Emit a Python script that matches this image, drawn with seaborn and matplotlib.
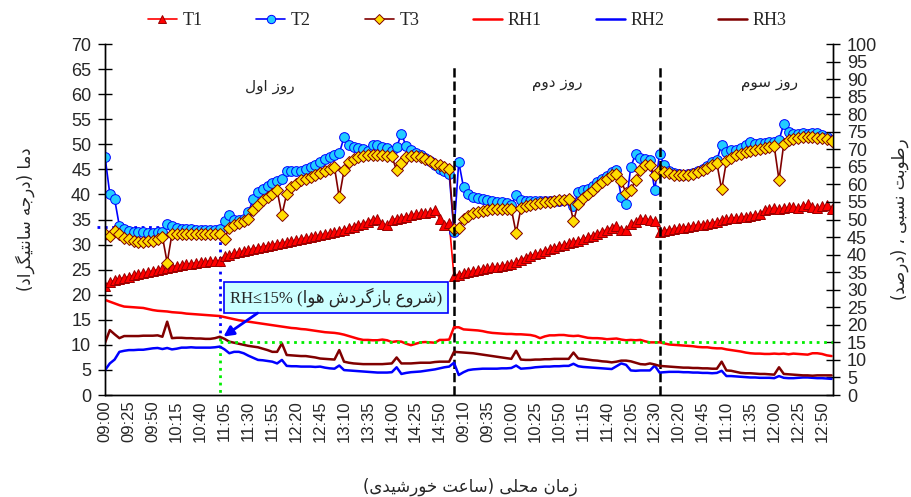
import matplotlib
matplotlib.use("Agg")
import matplotlib.pyplot as plt
import pandas as pd
import seaborn as sns
from matplotlib.lines import Line2D

# three measuring days, 5-minute readings
DAY_STARTS = ["09:00", "09:00", "10:00"]
DAY_COUNTS = [73, 43, 37]
DAY_NAMES = ["روز اول", "روز دوم", "روز سوم"]

# temperatures (deg C), day 1 / day 2 / day 3
T1_D1 = [21.8, 22.5, 22.9, 23.2, 23.4, 23.6, 23.9, 24.1, 24.3, 24.5,
         24.8, 25.0, 25.2, 25.4, 25.6, 25.8, 25.9, 26.1, 26.2, 26.4,
         26.5, 26.6, 26.7, 26.8, 26.8, 27.7, 28.0, 28.3, 28.5, 28.7,
         28.9, 29.2, 29.4, 29.6, 29.8, 30.0, 30.2, 30.4, 30.5, 30.7,
         30.9, 31.1, 31.3, 31.5, 31.7, 31.9, 32.1, 32.3, 32.5, 32.7,
         33.0, 33.3, 33.6, 33.9, 34.2, 34.6, 35.0, 35.1, 34.2, 33.9,
         34.9, 35.2, 35.4, 35.6, 35.9, 36.1, 36.3, 36.3, 36.6, 36.9, 35.2, 34.0, 34.4]
T1_D2 = [23.7, 24.0, 24.3, 24.5, 24.7, 24.9, 25.1, 25.3, 25.5, 25.6,
         25.8, 25.9, 26.1, 26.5, 27.0, 27.4, 27.8, 28.1, 28.4, 28.8,
         29.1, 29.4, 29.7, 30.0, 30.3, 30.6, 30.8, 31.1, 31.5, 31.8,
         32.2, 32.6, 33.0, 33.4, 33.7, 32.9, 33.0, 34.1, 34.6, 35.1, 35.2, 34.9, 34.8]
T1_D3 = [32.5, 32.8, 33.0, 33.1, 33.3, 33.4, 33.6, 33.7, 33.9, 34.0,
         34.2, 34.4, 34.6, 34.9, 35.1, 35.3, 35.3, 35.5, 35.6, 35.8,
         35.9, 36.1, 36.8, 37.1, 37.2, 37.0, 37.2, 37.4, 37.5, 37.3,
         37.6, 38.0, 37.4, 37.2, 37.6, 37.8, 37.0]

T2_D1 = [47.5, 40.1, 39.1, 33.7, 33.2, 32.8, 32.6, 32.5, 32.5, 32.4,
         32.4, 32.5, 32.6, 34.1, 33.8, 33.4, 33.2, 33.1, 33.1, 33.0,
         33.0, 33.0, 33.0, 33.0, 33.1, 34.7, 35.9, 35.0, 35.0, 35.2,
         36.5, 39.1, 40.4, 41.1, 41.7, 42.3, 42.7, 43.1, 44.7, 44.6,
         44.7, 44.7, 45.1, 45.4, 45.9, 46.4, 47.0, 47.4, 47.9, 48.2,
         51.4, 49.8, 49.4, 49.2, 49.0, 48.7, 49.8, 49.9, 49.5, 49.3,
         48.7, 49.4, 52.1, 49.6, 48.8, 48.3, 47.8, 47.2, 46.6, 45.9, 45.1, 44.6, 44.0]
T2_D2 = [32.5, 46.5, 41.4, 40.0, 39.5, 39.3, 39.1, 38.9, 38.7, 38.5,
         38.5, 38.3, 37.9, 39.9, 38.9, 38.7, 38.7, 38.6, 38.6, 38.6,
         38.6, 38.6, 38.7, 38.8, 38.9, 37.6, 40.5, 40.8, 41.1, 41.7,
         42.4, 43.1, 43.7, 44.4, 44.8, 39.5, 38.1, 45.5, 48.1, 47.3, 47.1, 46.9, 40.8]
T2_D3 = [48.1, 45.8, 44.6, 44.3, 44.1, 43.9, 44.0, 44.3, 44.6, 45.1,
         45.6, 46.4, 46.9, 49.9, 48.4, 48.8, 48.9, 49.3, 49.9, 50.4,
         50.1, 50.3, 50.2, 50.5, 50.4, 50.8, 54.1, 52.4, 52.0, 52.1,
         52.3, 52.1, 52.2, 52.3, 51.8, 51.4, 50.8]

T3_D1 = [32.1, 31.8, 32.7, 32.1, 31.4, 31.1, 30.8, 30.6, 30.6, 30.7,
         30.8, 31.2, 31.6, 26.4, 32.1, 32.1, 32.1, 32.1, 32.1, 32.1,
         32.1, 32.1, 32.1, 32.1, 32.1, 31.2, 33.4, 33.9, 34.3, 34.7,
         35.1, 36.8, 37.9, 38.8, 39.4, 40.1, 40.8, 35.9, 40.1, 41.4,
         42.1, 42.8, 43.1, 43.5, 43.8, 44.2, 44.6, 45.1, 45.4, 39.4,
         44.8, 46.4, 47.1, 47.4, 47.6, 47.8, 47.9, 47.9, 47.8, 47.6,
         47.6, 44.8, 46.3, 47.4, 47.6, 47.6, 47.4, 47.1, 46.6, 46.1, 45.8, 45.4, 45.1]
T3_D2 = [33.1, 33.4, 35.2, 35.7, 36.3, 36.5, 36.7, 36.9, 37.0, 37.1,
         37.1, 37.1, 37.1, 32.3, 37.2, 37.6, 37.9, 38.1, 38.3, 38.4,
         38.5, 38.7, 38.8, 38.9, 39.1, 34.7, 38.1, 39.2, 40.1, 40.9,
         41.7, 42.4, 43.1, 43.8, 44.1, 42.6, 40.3, 40.9, 42.9, 44.8, 45.8, 45.9, 43.8]
T3_D3 = [44.8, 44.4, 44.2, 43.9, 43.8, 43.8, 43.9, 44.1, 44.4, 44.8,
         45.2, 45.8, 46.2, 41.0, 46.6, 47.2, 47.8, 48.1, 48.4, 48.6,
         48.8, 49.0, 49.2, 49.4, 49.6, 42.9, 50.1, 50.8, 51.1, 51.3,
         51.5, 51.5, 51.5, 51.3, 51.2, 51.0, 50.7]

# relative humidity (%), day 1 / day 2 / day 3
RH1_D1 = [27.1, 26.6, 26.1, 25.6, 25.2, 25.1, 25.0, 24.9, 24.8, 24.5,
          24.2, 24.0, 23.9, 23.8, 23.6, 23.5, 23.4, 23.2, 23.1, 23.0,
          22.9, 22.8, 22.7, 22.6, 22.5, 22.2, 21.9, 21.6, 21.3, 21.1,
          20.9, 20.7, 20.5, 20.3, 20.1, 19.9, 19.7, 19.5, 19.3, 19.1,
          19.0, 18.8, 18.7, 18.5, 18.3, 18.1, 17.9, 17.8, 17.7, 17.5,
          17.2, 16.8, 16.4, 16.0, 15.7, 15.7, 15.6, 15.6, 15.8, 15.6,
          15.1, 15.3, 15.2, 14.6, 14.2, 14.6, 15.0, 15.1, 15.0, 14.9, 15.7, 15.7, 15.8]
RH1_D2 = [19.3, 19.3, 18.7, 18.6, 18.5, 18.4, 18.2, 17.9, 17.7, 17.6,
          17.5, 17.4, 17.4, 17.3, 17.3, 17.2, 17.1, 16.8, 16.2, 16.7,
          17.0, 17.0, 17.1, 17.1, 16.9, 16.8, 16.9, 16.6, 16.3, 16.2,
          16.2, 16.1, 15.9, 16.0, 16.1, 15.8, 15.6, 15.7, 15.6, 15.7, 15.3, 15.0, 15.0]
RH1_D3 = [15.0, 14.7, 14.4, 14.3, 14.2, 14.1, 14.0, 13.9, 13.7, 13.6,
          13.6, 13.4, 13.3, 13.3, 13.0, 12.8, 12.6, 12.4, 12.1, 11.9,
          11.8, 11.8, 11.7, 11.7, 11.8, 11.7, 11.8, 11.6, 11.8, 11.7,
          11.6, 11.5, 11.9, 11.9, 11.7, 11.3, 11.1]

RH2_D1 = [7.1, 9.0, 10.1, 12.3, 12.6, 12.8, 12.8, 12.9, 12.9, 13.1,
          13.3, 13.4, 13.1, 13.4, 13.0, 13.2, 13.5, 13.5, 13.6, 13.5,
          13.5, 13.5, 13.5, 13.6, 13.8, 13.0, 11.9, 12.3, 12.3, 11.9,
          11.2, 10.6, 10.0, 9.9, 9.7, 9.5, 9.0, 10.0, 8.3, 8.2,
          8.2, 8.1, 8.1, 8.1, 8.0, 8.1, 7.8, 7.6, 7.5, 8.4,
          7.1, 7.0, 6.9, 6.8, 6.7, 6.6, 6.5, 6.4, 6.4, 6.4,
          6.5, 7.9, 6.0, 6.3, 6.5, 6.6, 6.7, 6.9, 7.1, 7.3, 7.6, 7.9, 8.1]
RH2_D2 = [9.2, 5.7, 6.5, 7.1, 7.3, 7.4, 7.5, 7.5, 7.5, 7.5,
          7.6, 7.6, 7.7, 8.4, 7.5, 7.6, 7.7, 7.9, 8.0, 8.1,
          8.1, 8.2, 8.2, 8.3, 8.3, 8.9, 8.2, 8.0, 7.9, 7.8,
          7.7, 7.6, 7.5, 7.4, 8.2, 9.0, 8.6, 7.0, 6.9, 7.0, 7.0, 7.0, 8.4]
RH2_D3 = [6.4, 6.5, 6.6, 6.6, 6.6, 6.5, 6.5, 6.4, 6.4, 6.3,
          6.3, 6.2, 6.3, 6.9, 5.4, 5.4, 5.3, 5.2, 5.1, 5.0,
          5.0, 4.9, 4.9, 4.9, 4.8, 5.4, 4.9, 4.8, 4.8, 4.9,
          5.0, 5.0, 4.9, 4.8, 4.8, 4.7, 4.6]

RH3_D1 = [14.9, 18.5, 17.3, 16.2, 16.8, 16.8, 16.8, 16.8, 16.9, 16.9,
          16.9, 17.0, 16.6, 20.9, 16.2, 16.3, 16.3, 16.2, 16.2, 16.1,
          16.1, 16.0, 16.0, 16.2, 16.6, 16.0, 15.2, 14.9, 14.6, 14.3,
          14.0, 13.8, 13.6, 13.2, 12.8, 12.3, 12.3, 14.7, 11.4, 11.3,
          11.2, 11.1, 11.1, 10.9, 10.7, 10.4, 10.3, 10.2, 10.1, 12.8,
          9.5, 9.2, 9.0, 8.9, 8.8, 8.8, 8.8, 8.8, 8.8, 8.9,
          9.0, 10.7, 9.0, 9.0, 9.0, 9.1, 9.2, 9.2, 9.2, 9.4, 9.5, 9.5, 9.5]
RH3_D2 = [12.3, 12.2, 12.1, 12.0, 11.9, 11.7, 11.5, 11.3, 11.1, 10.9,
          10.7, 10.5, 10.3, 12.6, 10.1, 10.0, 10.0, 10.1, 10.1, 10.2,
          10.2, 10.3, 10.3, 10.3, 10.3, 12.1, 10.4, 10.3, 10.1, 9.9,
          9.8, 9.6, 9.5, 9.3, 9.5, 9.8, 9.8, 9.6, 9.2, 8.8, 8.7, 9.0, 8.7]
RH3_D3 = [8.3, 8.2, 8.1, 8.0, 7.9, 7.8, 7.8, 7.7, 7.7, 7.6,
          7.6, 7.5, 7.5, 9.5, 7.0, 6.9, 6.6, 6.3, 6.2, 6.2,
          6.1, 6.0, 6.0, 5.9, 5.8, 7.9, 6.0, 5.9, 5.8, 5.7,
          5.6, 5.6, 5.5, 5.6, 5.6, 5.6, 5.6]

RH_LIMIT = 15
T_START = 33.5

# minimal Persian shaping: (isolated, final, initial, medial)
AR_FORMS = {
    "ا": ("\ufe8d", "\ufe8e", None, None),
    "ب": ("\ufe8f", "\ufe90", "\ufe91", "\ufe92"),
    "ت": ("\ufe95", "\ufe96", "\ufe97", "\ufe98"),
    "ج": ("\ufe9d", "\ufe9e", "\ufe9f", "\ufea0"),
    "ح": ("\ufea1", "\ufea2", "\ufea3", "\ufea4"),
    "خ": ("\ufea5", "\ufea6", "\ufea7", "\ufea8"),
    "د": ("\ufea9", "\ufeaa", None, None),
    "ر": ("\ufead", "\ufeae", None, None),
    "ز": ("\ufeaf", "\ufeb0", None, None),
    "س": ("\ufeb1", "\ufeb2", "\ufeb3", "\ufeb4"),
    "ش": ("\ufeb5", "\ufeb6", "\ufeb7", "\ufeb8"),
    "ص": ("\ufeb9", "\ufeba", "\ufebb", "\ufebc"),
    "ط": ("\ufec1", "\ufec2", "\ufec3", "\ufec4"),
    "ع": ("\ufec9", "\ufeca", "\ufecb", "\ufecc"),
    "ل": ("\ufedd", "\ufede", "\ufedf", "\ufee0"),
    "م": ("\ufee1", "\ufee2", "\ufee3", "\ufee4"),
    "ن": ("\ufee5", "\ufee6", "\ufee7", "\ufee8"),
    "ه": ("\ufee9", "\ufeea", "\ufeeb", "\ufeec"),
    "و": ("\ufeed", "\ufeee", None, None),
    "ی": ("\ufbfc", "\ufbfd", "\ufbfe", "\ufbff"),
    "ي": ("\ufef1", "\ufef2", "\ufef3", "\ufef4"),
    "گ": ("\ufb92", "\ufb93", "\ufb94", "\ufb95"),
}


def fa(text):
    """Shape Persian letters and return them in visual (left-to-right) order."""
    out = []
    for k, ch in enumerate(text):
        if ch not in AR_FORMS:
            out.append(ch)
            continue
        iso, fin, ini, med = AR_FORMS[ch]
        prev = text[k - 1] if k > 0 else ""
        nxt = text[k + 1] if k + 1 < len(text) else ""
        join_prev = prev in AR_FORMS and AR_FORMS[prev][2] is not None
        join_next = nxt in AR_FORMS and ini is not None
        if join_prev and join_next:
            out.append(med)
        elif join_prev:
            out.append(fin)
        elif join_next:
            out.append(ini)
        else:
            out.append(iso)
    return "".join(out)[::-1].translate(str.maketrans("()", ")("))


times = []
for start, n in zip(DAY_STARTS, DAY_COUNTS):
    times += list(pd.date_range(f"2000-01-01 {start}", periods=n, freq="5min").strftime("%H:%M"))

df = pd.DataFrame({
    "pos": range(len(times)),
    "time": times,
    "T1": T1_D1 + T1_D2 + T1_D3,
    "T2": T2_D1 + T2_D2 + T2_D3,
    "T3": T3_D1 + T3_D2 + T3_D3,
    "RH1": RH1_D1 + RH1_D2 + RH1_D3,
    "RH2": RH2_D1 + RH2_D2 + RH2_D3,
    "RH3": RH3_D1 + RH3_D2 + RH3_D3,
})
day_edges = [DAY_COUNTS[0], DAY_COUNTS[0] + DAY_COUNTS[1]]

sns.set_theme(style="white")
plt.rcParams["font.family"] = ["DejaVu Sans"]
NARROW = ["Liberation Sans Narrow", "Liberation Sans", "DejaVu Sans"]

fig = plt.figure(figsize=(9.11, 4.97), dpi=100)
ax = fig.add_axes([0.1153, 0.2052, 0.7991, 0.7062])
ax2 = ax.twinx()

temp_styles = [
    ("T1", "red", "^", "red", "#990000", 7),
    ("T2", "blue", "o", "#22ccff", "blue", 7),
    ("T3", "#800000", "D", "#ffdd00", "#800000", 6),
]
for col, lc, mk, fc, ec, ms in temp_styles:
    sns.lineplot(data=df, x="pos", y=col, ax=ax, color=lc, lw=1.2, marker=mk,
                 markersize=ms, markerfacecolor=fc, markeredgecolor=ec,
                 markeredgewidth=0.7, zorder=3, label=col, legend=False)

rh_styles = [("RH1", "red"), ("RH2", "blue"), ("RH3", "#800000")]
for col, lc in rh_styles:
    sns.lineplot(data=df, x="pos", y=col, ax=ax2, color=lc, lw=1.8,
                 label=col, legend=False)

# day separators and names
for edge in day_edges:
    ax.plot([edge, edge], [0, 66], color="black", ls="--", lw=1.8, zorder=4)
for xc, yc, name in [(34.5, 61.5, DAY_NAMES[0]), (94.6, 62.1, DAY_NAMES[1]),
                     (139.0, 62.1, DAY_NAMES[2])]:
    ax.text(xc, yc, fa(name), ha="center", va="center", fontsize=11)

# start of air recirculation (RH <= 15 %)
ax.plot([-1.7, 24], [T_START, T_START], color="blue", ls=":", lw=2, clip_on=False)
ax.plot([24, 24], [T_START, 11.4], color="blue", ls=":", lw=2)
ax.plot([24, 24], [11.4, 0], color="#00ee00", ls=":", lw=2)
ax2.plot([24, 152.3], [RH_LIMIT, RH_LIMIT], color="#00ee00", ls=":", lw=2)
ax2.text(48.3, 27.9, "RH≤15% " + fa("(شروع بازگردش هوا)"), ha="center", va="center",
         fontsize=12, family=["Liberation Serif", "DejaVu Sans"],
         bbox=dict(boxstyle="square,pad=0.35", fc="#ccffff", ec="blue", lw=1.2))
ax2.annotate("", xy=(24.3, 16.2), xytext=(32.4, 23.8),
             arrowprops=dict(arrowstyle="-|>", color="blue", lw=2, mutation_scale=15))

# axes
ax.set_xlim(0, 152.3)
ax.set_ylim(0, 70)
ax2.set_ylim(0, 100)
ax.set_yticks(range(0, 71, 5))
ax2.set_yticks(range(0, 101, 5))
ax.set_xticks(range(0, len(times), 5))
ax.set_xticklabels(times[::5], rotation=90, family=NARROW, fontsize=12)
ax.set_xticks(range(0, len(times), 4), minor=True)
ax.tick_params(axis="x", which="major", length=0, pad=4)
ax.tick_params(axis="x", which="minor", direction="inout", length=9, width=1, color="black")
ax.tick_params(axis="y", direction="inout", length=10, width=1, color="black", pad=5,
               labelsize=13)
ax2.tick_params(axis="y", direction="inout", length=10, width=1, color="black", pad=5,
                labelsize=13)
for lab in ax.get_yticklabels():
    lab.set_family(["Liberation Sans", "DejaVu Sans"])
for lab in ax2.get_yticklabels():
    lab.set_family(NARROW)
ax.set_xlabel("")
ax.set_ylabel("")
ax2.set_ylabel("")
for a in (ax, ax2):
    a.spines["top"].set_visible(False)
    for s in ("left", "right", "bottom"):
        a.spines[s].set_color("black")
        a.spines[s].set_linewidth(1)
ax.grid(False)
ax2.grid(False)

fig.text(25 / 911, 0.558, fa("دما (درجه سانتیگراد)"), rotation=90, ha="center", va="center",
         fontsize=12)
fig.text(900 / 911, 0.558, fa("رطوبت نسبی ، (درصد)"), rotation=90, ha="center", va="center",
         fontsize=12)
fig.text(0.516, 0.02, fa("زمان محلی (ساعت خورشیدی)"), ha="center", va="center", fontsize=12)

handles = [Line2D([], [], color=lc, lw=1.2, marker=mk, markersize=ms - 1,
                  markerfacecolor=fc, markeredgecolor=ec, markeredgewidth=0.7)
           for _, lc, mk, fc, ec, ms in temp_styles]
handles += [Line2D([], [], color=lc, lw=1.8) for _, lc in rh_styles]
labels = [s[0] for s in temp_styles] + [s[0] for s in rh_styles]
fig.legend(handles, labels, loc="center", bbox_to_anchor=(0.513, 0.958), ncol=6,
           frameon=False, prop={"family": ["Liberation Serif"], "size": 13},
           handlelength=1.6, handletextpad=0.3, columnspacing=3.0)

fig.savefig("out.png", dpi=100)
